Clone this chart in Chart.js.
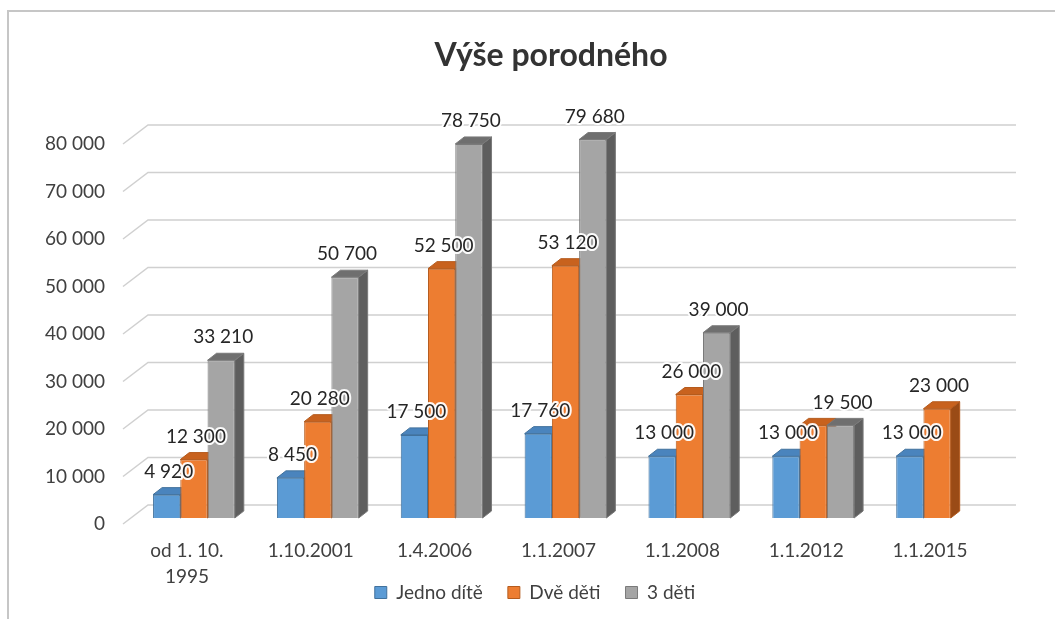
<!DOCTYPE html>
<html>
<head>
<meta charset="utf-8">
<script src="https://cdn.jsdelivr.net/npm/chart.js@4.4.1/dist/chart.umd.min.js"></script>
<style>
  body { margin: 0; background: #fff; }
  canvas { display: block; }
</style>
</head>
<body>
<canvas id="chart" width="1055" height="619"></canvas>
<script>
const categories = [['od 1. 10.', '1995'], '1.10.2001', '1.4.2006', '1.1.2007', '1.1.2008', '1.1.2012', '1.1.2015'];
const jednoDite = [4920, 8450, 17500, 17760, 13000, 13000, 13000];
const dveDeti = [12300, 20280, 52500, 53120, 26000, 19500, 23000];
const triDeti = [33210, 50700, 78750, 79680, 39000, 19500, null];
const seriesNames = ['Jedno dítě', 'Dvě děti', '3 děti'];
const yTicks = [0, 10000, 20000, 30000, 40000, 50000, 60000, 70000, 80000];

// front, outline, top face, side face
const palette = [
  ['#5B9BD5', '#41719C', '#4A84BD', '#3C6A94'],
  ['#ED7D31', '#B55B1D', '#C8621E', '#9A4B16'],
  ['#A5A5A5', '#7A7A7A', '#6F6F6F', '#5E5E5E']
];
const DX = 9, DY = 7;

const fmt = v => String(v).replace(/\B(?=(\d{3})+(?!\d))/g, ' ');
const FONT = 'Lato, "Open Sans", sans-serif';

// frame + title (title sits off-centre in the original, so it is drawn here)
const frame = {
  id: 'frame',
  afterUpdate(chart) {
    // let the two-line first category label spill below the axis box
    chart.scales.x._computeLabelArea = () => undefined;
  },
  beforeDraw(chart) {
    const ctx = chart.ctx;
    ctx.save();
    ctx.fillStyle = '#fff';
    ctx.fillRect(0, 0, chart.width, chart.height);
    ctx.strokeStyle = '#C6C6C6';
    ctx.lineWidth = 2;
    ctx.beginPath();
    ctx.moveTo(8, chart.height); ctx.lineTo(8, 11); ctx.lineTo(chart.width, 11);
    ctx.stroke();
    ctx.fillStyle = '#333333';
    ctx.font = 'bold 32px ' + FONT;
    ctx.textAlign = 'center';
    ctx.textBaseline = 'middle';
    ctx.fillText('Výše porodného', 551, 56);
    ctx.restore();
  }
};

const walls = {
  id: 'walls',
  beforeDatasetsDraw(chart) {
    const ctx = chart.ctx, ys = chart.scales.y, area = chart.chartArea;
    ctx.save();
    ctx.strokeStyle = '#D0D0D0';
    ctx.lineWidth = 1.5;
    yTicks.forEach(v => {
      const yy = ys.getPixelForValue(v);
      ctx.beginPath();
      ctx.moveTo(area.left - 9, yy + 6);
      ctx.lineTo(area.left + 16, yy - 13);
      ctx.lineTo(area.right + 17, yy - 13);
      ctx.stroke();
    });
    // depth faces of the bars, chart.js paints the fronts afterwards
    chart.data.datasets.forEach((ds, di) => {
      const meta = chart.getDatasetMeta(di);
      const [, line, top, side] = palette[di];
      meta.data.forEach((bar, i) => {
        if (ds.data[i] == null) return;
        const p = bar.getProps(['x', 'y', 'base', 'width'], true);
        const l = p.x - p.width / 2, r = p.x + p.width / 2;
        ctx.lineWidth = 1;
        ctx.strokeStyle = line;
        ctx.fillStyle = side;
        ctx.beginPath();
        ctx.moveTo(r, p.y); ctx.lineTo(r + DX, p.y - DY); ctx.lineTo(r + DX, p.base - DY); ctx.lineTo(r, p.base);
        ctx.closePath(); ctx.fill(); ctx.stroke();
        ctx.fillStyle = top;
        ctx.beginPath();
        ctx.moveTo(l, p.y); ctx.lineTo(l + DX, p.y - DY); ctx.lineTo(r + DX, p.y - DY); ctx.lineTo(r, p.y);
        ctx.closePath(); ctx.fill(); ctx.stroke();
      });
    });
    ctx.restore();
  }
};

const valueLabels = {
  id: 'valueLabels',
  afterDatasetsDraw(chart) {
    const ctx = chart.ctx, sets = chart.data.datasets;
    ctx.save();
    ctx.font = '19px ' + FONT;
    ctx.textAlign = 'center';
    ctx.textBaseline = 'middle';
    ctx.lineJoin = 'round';
    sets.forEach((ds, di) => {
      const meta = chart.getDatasetMeta(di);
      meta.data.forEach((bar, i) => {
        const v = ds.data[i];
        if (v == null) return;
        const next = sets[di + 1];
        if (next && next.data[i] === v) return; // same height as neighbour, one label is enough
        const p = bar.getProps(['x', 'y'], true);
        const txt = fmt(v);
        ctx.strokeStyle = 'rgba(255,255,255,0.95)';
        ctx.lineWidth = 4;
        ctx.strokeText(txt, p.x + 2, p.y - 23);
        ctx.fillStyle = '#262626';
        ctx.fillText(txt, p.x + 2, p.y - 23);
      });
    });
    ctx.restore();
  }
};

const datasets = [jednoDite, dveDeti, triDeti].map((data, i) => ({
  label: seriesNames[i],
  data,
  backgroundColor: palette[i][0],
  borderColor: palette[i][1],
  borderWidth: 1,
  barPercentage: 1,
  categoryPercentage: 0.66
}));

new Chart(document.getElementById('chart'), {
  type: 'bar',
  data: { labels: categories, datasets },
  options: {
    responsive: false,
    animation: false,
    layout: { padding: { left: 15, right: 0, top: 138, bottom: 7 } },
    plugins: {
      tooltip: { enabled: false },
      title: { display: false },
      legend: {
        position: 'bottom',
        labels: {
          boxWidth: 12,
          boxHeight: 12,
          padding: 25,
          color: '#404040',
          font: { family: FONT, size: 19 }
        }
      }
    },
    scales: {
      x: {
        grid: { display: false, drawTicks: false },
        border: { display: false },
        ticks: {
          color: '#404040',
          font: { family: FONT, size: 19, lineHeight: 1.35 },
          padding: 20,
          labelOffset: -7,
          maxRotation: 0,
          autoSkip: false
        },
        afterFit: s => { s.height = 40; }
      },
      y: {
        min: 0,
        max: 80000,
        grid: { display: false, drawTicks: false },
        border: { display: false },
        ticks: {
          stepSize: 10000,
          color: '#404040',
          font: { family: FONT, size: 19 },
          padding: 27,
          labelOffset: 6,
          callback: v => fmt(v)
        },
        afterFit: s => { s.width = 117; }
      },
      yRight: {
        position: 'right',
        display: true,
        grid: { display: false, drawTicks: false },
        border: { display: false },
        ticks: { display: false },
        afterFit: s => { s.width = 56; }
      }
    }
  },
  plugins: [frame, walls, valueLabels]
});
</script>
</body>
</html>
